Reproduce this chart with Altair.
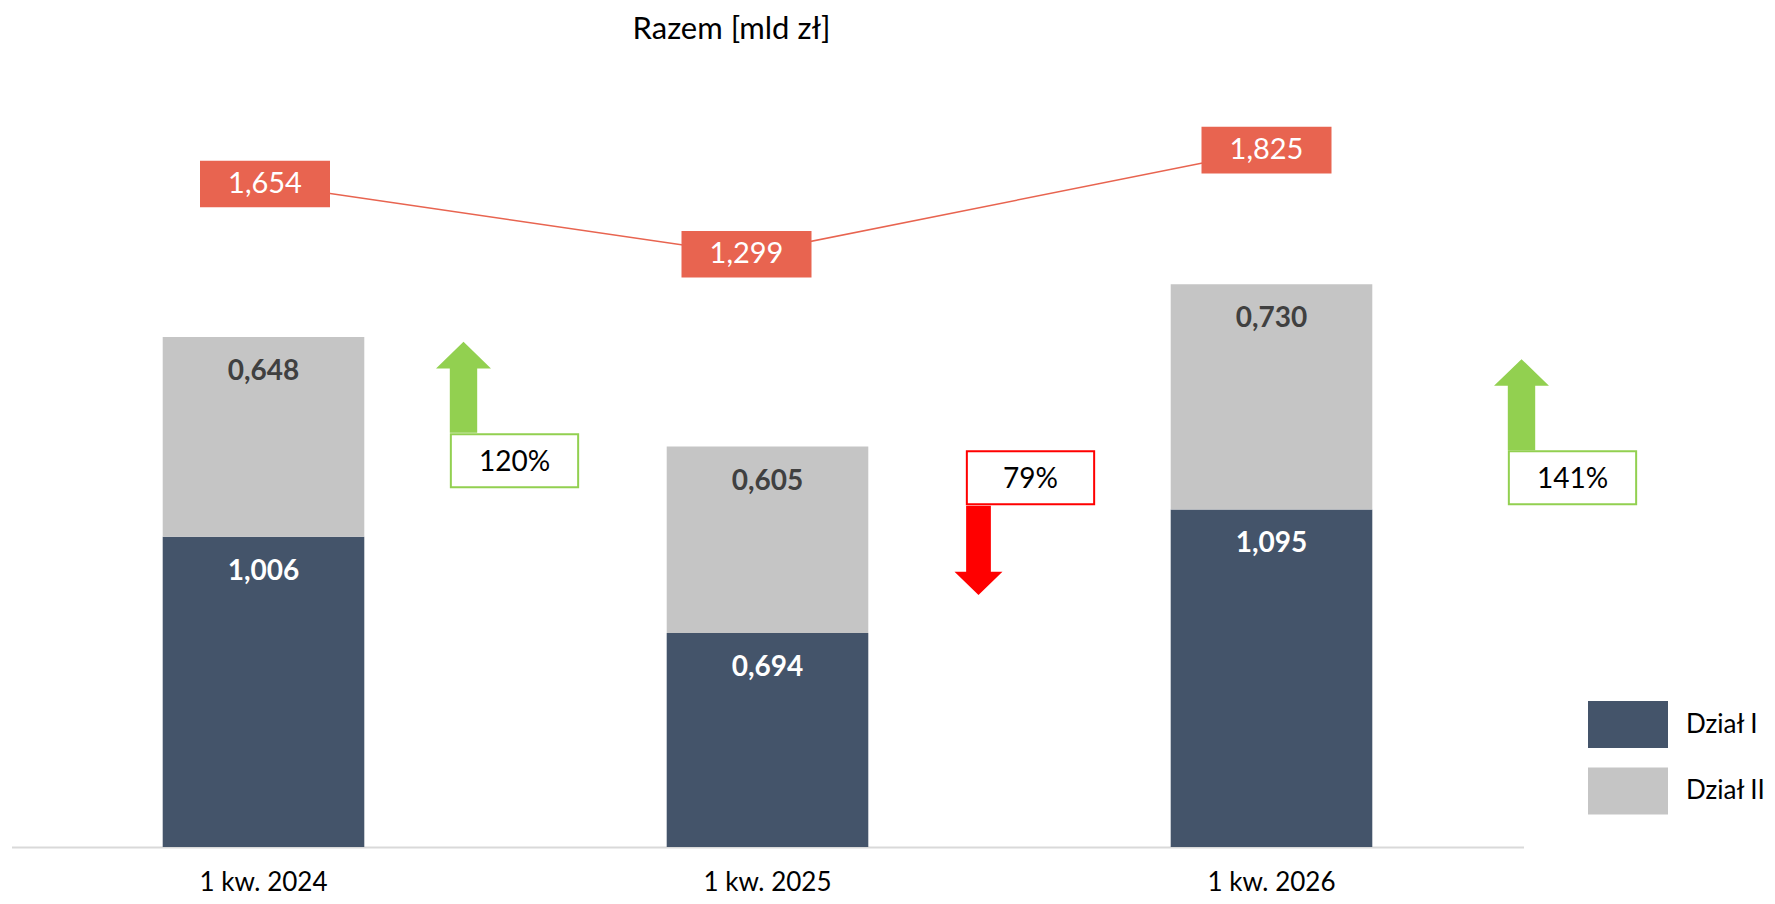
import altair as alt
import pandas as pd

# ---------------- data ----------------
categories = ["1 kw. 2024", "1 kw. 2025", "1 kw. 2026"]
series_names = ["Dział I", "Dział II"]
dzial_1 = [1.006, 0.694, 1.095]
dzial_2 = [0.648, 0.605, 0.730]
razem = [1.654, 1.299, 1.825]
change_pct = ["120%", "79%", "141%"]
change_dir = ["up", "down", "up"]
title_text = "Razem [mld zł]"

bars_df = pd.DataFrame({
    "kw": categories * 2,
    "dzial": [series_names[0]] * 3 + [series_names[1]] * 3,
    "value": dzial_1 + dzial_2,
    "ord": [0] * 3 + [1] * 3,
})
line_df = pd.DataFrame({"kw": categories, "razem": razem})

# ---------------- style ----------------
FONT = "Lato"
RED_LBL = "#E86450"
DARK = "#44546A"
GRAY = "#C5C5C5"
GREEN = "#92D050"
RED = "#FF0000"
PLOT_W, PLOT_H = 1512, 787
HALF_BAND = 100.8

RECT_LEGEND = "M-1,-0.5875H1V0.5875H-1Z"
RECT_LINE_LBL = "M-1,-0.359H1V0.359H-1Z"
RECT_PCT = "M-1,-0.416H1V0.416H-1Z"
ARROW_UP = "M0,-1L0.604,-0.415L0.301,-0.415L0.301,1L-0.301,1L-0.301,-0.415L-0.604,-0.415Z"
ARROW_DOWN = "M-0.277,-1L0.277,-1L0.277,0.478L0.537,0.478L0,1L-0.537,0.478L-0.277,0.478Z"

LABEL_EXPR = "replace(format(datum.{f}, '.3f'), '.', ',')"
# small nudges of the total-line labels (pixels)
LINE_XO = ("%g + (datum.kw == '%s' ? -21 : (datum.kw == '%s' ? -5 : 1.5))"
           % (HALF_BAND, categories[1], categories[2]))

X = alt.X(
    "kw:N",
    sort=categories,
    scale=alt.Scale(paddingInner=0.6, paddingOuter=0.3),
    axis=alt.Axis(
        title=None, labelAngle=0, ticks=False, grid=False,
        domainColor="#D9D9D9", domainWidth=2,
        labelFont=FONT, labelFontSize=26, labelColor="#000000", labelPadding=22.8,
    ),
)
YB = alt.Scale(domain=[0, 2.5527], nice=False, zero=True)
YL = alt.Scale(domain=[-1.698, 2.281], nice=False, zero=False)
XO = alt.XOffset("xo:Q", scale=None)

bars = alt.Chart(bars_df).mark_bar().encode(
    x=X,
    y=alt.Y("value:Q", stack="zero", scale=YB, axis=None),
    color=alt.Color(
        "dzial:N",
        scale=alt.Scale(domain=series_names, range=[DARK, GRAY]),
        legend=alt.Legend(
            title=None, orient="none", legendX=1576.5, legendY=624.5,
            symbolType=RECT_LEGEND, symbolSize=6400, symbolStrokeWidth=0,
            symbolOpacity=1, labelFont=FONT, labelFontSize=26,
            labelColor="#000000", labelOffset=18, rowPadding=2.5, padding=0,
        ),
    ),
    order=alt.Order("ord:Q", sort="ascending"),
)

bar_text = alt.Chart(bars_df).transform_calculate(
    lbl=LABEL_EXPR.format(f="value")
).mark_text(
    font=FONT, fontSize=28, fontWeight="bold", dy=35, baseline="middle"
).encode(
    x=X,
    y=alt.Y("value:Q", stack="zero", scale=YB, axis=None),
    detail="dzial:N",
    order=alt.Order("ord:Q", sort="ascending"),
    text="lbl:N",
    color=alt.condition(alt.datum.dzial == series_names[0],
                        alt.value("#FFFFFF"), alt.value("#404040")),
)

line = alt.Chart(line_df).transform_calculate(xo=LINE_XO).mark_line(
    color=RED_LBL, strokeWidth=1.5
).encode(x=X, xOffset=XO, y=alt.Y("razem:Q", scale=YL, axis=None))
line_boxes = alt.Chart(line_df).transform_calculate(xo=LINE_XO).mark_point(
    shape=RECT_LINE_LBL, size=16900, filled=True, color=RED_LBL, opacity=1, strokeWidth=0
).encode(x=X, xOffset=XO, y=alt.Y("razem:Q", scale=YL, axis=None))
line_text = alt.Chart(line_df).transform_calculate(
    lbl=LABEL_EXPR.format(f="razem"), xo=LINE_XO
).mark_text(font=FONT, fontSize=29, color="#FFFFFF", baseline="middle").encode(
    x=X, xOffset=XO, y=alt.Y("razem:Q", scale=YL, axis=None), text="lbl:N"
)

# annotation placement (pixel offsets from band centre / plot top)
ann_style = [
    dict(arrow_dx=200, arrow_y=327.3, box_dx=251, box_y=400.8, arrow_size=8281),
    dict(arrow_dx=211, arrow_y=490.4, box_dx=263, box_y=417.8, arrow_size=7974),
    dict(arrow_dx=250, arrow_y=344.7, box_dx=301, box_y=417.8, arrow_size=8281),
]

ann_layers = []
for cat, pct, d, st in zip(categories, change_pct, change_dir, ann_style):
    adf = pd.DataFrame({"kw": [cat], "pct": [pct]})
    col = GREEN if d == "up" else RED
    path = ARROW_UP if d == "up" else ARROW_DOWN
    arrow = alt.Chart(adf).mark_point(
        shape=path, size=st["arrow_size"], filled=True, color=col, opacity=1,
        strokeWidth=0, xOffset=st["arrow_dx"]
    ).encode(x=X, y=alt.value(st["arrow_y"]))
    box = alt.Chart(adf).mark_point(
        shape=RECT_PCT, size=16205, filled=False, fill="#FFFFFF", fillOpacity=1,
        stroke=col, strokeWidth=2, opacity=1, xOffset=st["box_dx"]
    ).encode(x=X, y=alt.value(st["box_y"]))
    txt = alt.Chart(adf).mark_text(
        font=FONT, fontSize=28, color="#000000", baseline="middle",
        dx=st["box_dx"], dy=2
    ).encode(x=X, y=alt.value(st["box_y"]), text="pct:N")
    ann_layers += [arrow, box, txt]

chart = alt.layer(
    bars, bar_text, line, line_boxes, line_text, *ann_layers
).resolve_scale(
    y="independent"
).properties(
    width=PLOT_W,
    height=PLOT_H,
    autosize=alt.AutoSizeParams(type="none"),
    padding={"left": 3.5, "top": 52, "right": 243.5, "bottom": 49},
    title=alt.TitleParams(
        title_text, font=FONT, fontSize=31, fontWeight="normal", color="#000000",
        anchor="middle", frame="group", dx=-36, dy=33, offset=23, baseline="alphabetic",
    ),
).configure_view(strokeWidth=0)

chart.save("out.html", embed_options={"renderer": "svg", "actions": False})
